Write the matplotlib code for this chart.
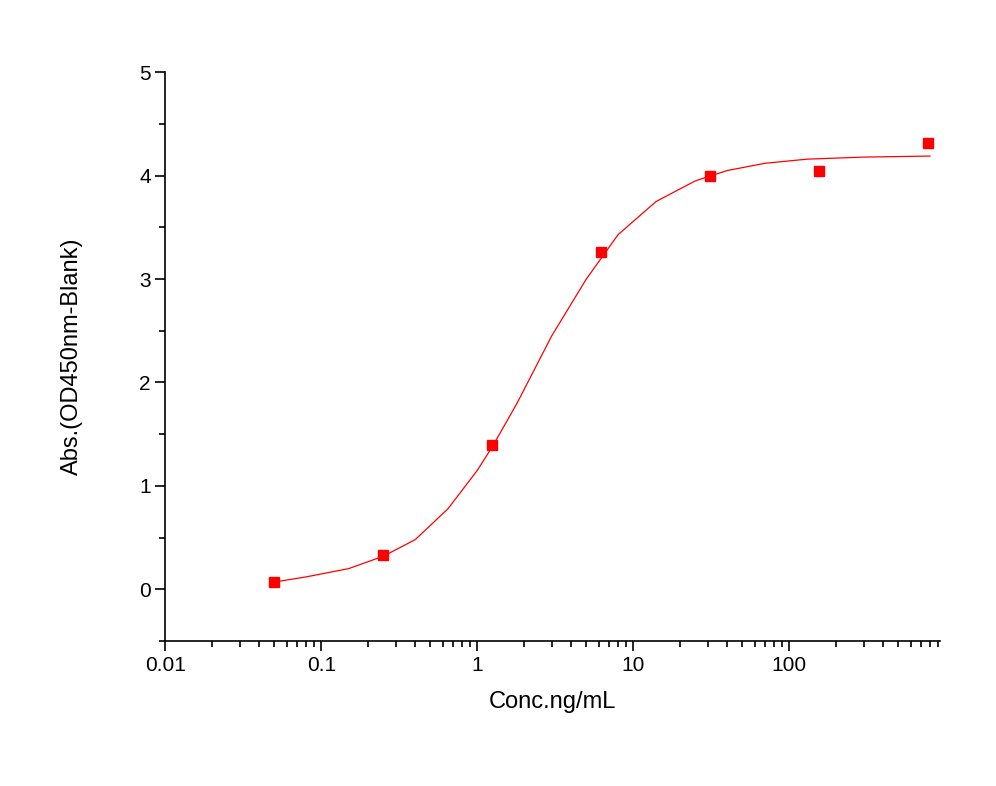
import numpy as np
import matplotlib
matplotlib.use('Agg')
import matplotlib.pyplot as plt
from matplotlib.ticker import FixedLocator, LogLocator, NullFormatter

plt.rcParams['font.family'] = ['Liberation Sans', 'DejaVu Sans']

# measured points
conc = [0.05, 0.25, 1.25, 6.25, 31.25, 156.25, 781.25]
absorb = [0.07, 0.33, 1.40, 3.26, 4.00, 4.05, 4.32]

# fitted curve
fit_x = [0.05, 0.08, 0.15, 0.25, 0.4, 0.65, 1.0, 1.25, 1.8, 3, 5, 8, 14, 25, 40, 70, 130, 300, 800]
fit_y = [0.07, 0.12, 0.2, 0.32, 0.48, 0.78, 1.15, 1.38, 1.8, 2.45, 3.0, 3.43, 3.75, 3.95, 4.05, 4.12, 4.16, 4.18, 4.19]

fig = plt.figure(figsize=(9.96, 7.86), dpi=100)
ax = fig.add_axes([0.166, 0.1845, 0.778, 0.7235])

ax.plot(fit_x, fit_y, color='red', lw=0.9)
ax.plot(conc, absorb, 's', color='red', ms=7, ls='none')

ax.set_xscale('log')
ax.set_xlim(0.01, 930)
ax.set_ylim(-0.5, 5)
ax.set_xticks([0.01, 0.1, 1, 10, 100])
ax.set_xticklabels(['0.01', '0.1', '1', '10', '100'])
ax.xaxis.set_minor_locator(LogLocator(base=10, subs=np.arange(2, 10)))
ax.xaxis.set_minor_formatter(NullFormatter())
ax.set_yticks([0, 1, 2, 3, 4, 5])
ax.yaxis.set_minor_locator(FixedLocator([-0.5, 0.5, 1.5, 2.5, 3.5, 4.5]))

for s in ['top', 'right']:
    ax.spines[s].set_visible(False)
ax.spines['left'].set_linewidth(1.2)
ax.spines['bottom'].set_linewidth(1.2)
ax.tick_params(which='major', direction='out', length=7, width=1.2, labelsize=15)
ax.tick_params(which='minor', direction='out', length=4, width=1.2)

ax.set_xlabel('Conc.ng/mL', fontsize=17, labelpad=12)
ax.set_ylabel('Abs.(OD450nm-Blank)', fontsize=17, labelpad=40)

fig.savefig('out.png', dpi=100)
